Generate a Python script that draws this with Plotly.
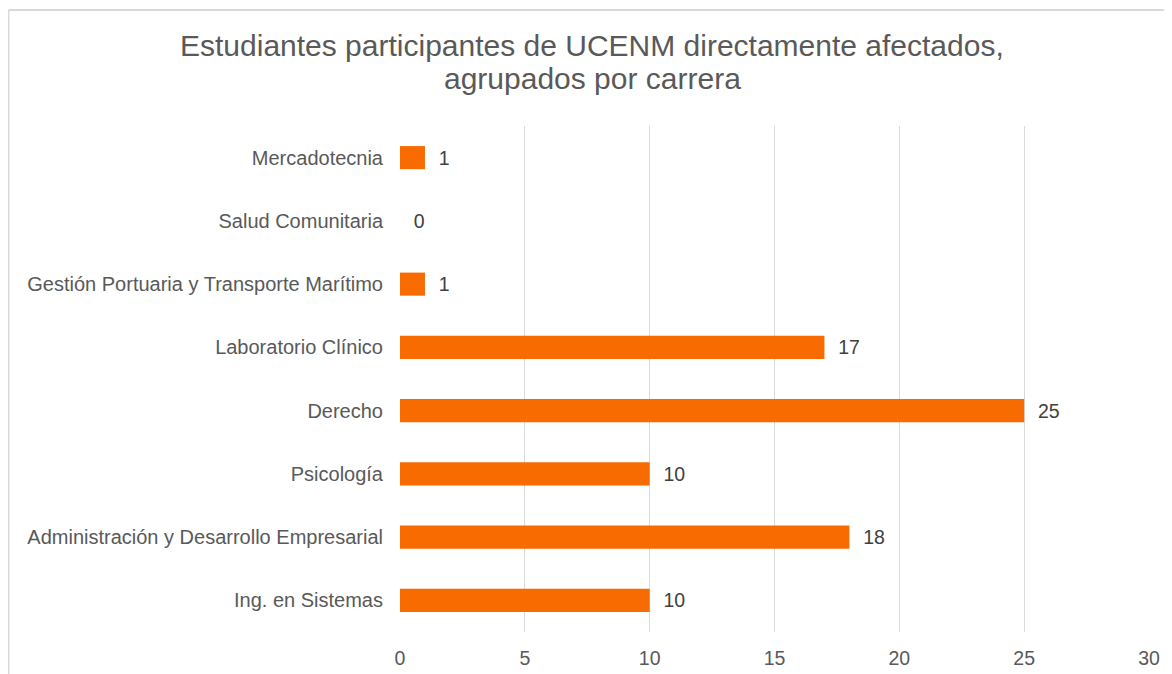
import plotly.graph_objects as go

carreras = [
    "Ing. en Sistemas",
    "Administración y Desarrollo Empresarial",
    "Psicología",
    "Derecho",
    "Laboratorio Clínico",
    "Gestión Portuaria y Transporte Marítimo",
    "Salud Comunitaria",
    "Mercadotecnia",
]
estudiantes = [10, 18, 10, 25, 17, 1, 0, 1]
x_ticks = [0, 5, 10, 15, 20, 25, 30]
titulo_1 = "Estudiantes participantes de UCENM directamente afectados,"
titulo_2 = "agrupados por carrera"

# page is offset by the 8px body margin
W, H = 1164, 666
L, R, T, B = 392, 23, 118, 42
pw, ph = W - L - R, H - T - B

def px(x):
    return (x - L) / pw

def py(y):
    return (H - B - y) / ph

FONT = "Liberation Sans, Arial, sans-serif"

fig = go.Figure(
    go.Bar(
        y=carreras,
        x=estudiantes,
        orientation="h",
        marker=dict(color="#F76B00", line=dict(width=0)),
        text=[f"  {v}" for v in estudiantes],
        textposition="outside",
        textfont=dict(family=FONT, size=19.5, color="#404040"),
        cliponaxis=False,
    )
)

fig.update_layout(
    width=W,
    height=H,
    margin=dict(l=L, r=R, t=T, b=B, autoexpand=False),
    paper_bgcolor="white",
    plot_bgcolor="white",
    bargap=0.635,
    showlegend=False,
    font=dict(family=FONT, color="#595959"),
    xaxis=dict(
        range=[0, 30],
        tickvals=x_ticks,
        showgrid=True,
        gridcolor="#D9D9D9",
        gridwidth=1,
        zeroline=False,
        showline=False,
        automargin=False,
        tickfont=dict(size=19.5, color="#595959"),
        ticklabelstandoff=12,
        fixedrange=True,
    ),
    yaxis=dict(
        categoryorder="array",
        categoryarray=carreras,
        range=[-0.5, len(carreras) - 0.5],
        showgrid=False,
        showline=False,
        zeroline=False,
        automargin=False,
        tickfont=dict(size=20, color="#595959"),
        ticklabelstandoff=16,
        fixedrange=True,
    ),
    annotations=[
        dict(text=titulo_1, xref="paper", yref="paper", x=px(584), y=py(37.5),
             xanchor="center", yanchor="middle", showarrow=False,
             font=dict(family=FONT, size=30, color="#595959")),
        dict(text=titulo_2, xref="paper", yref="paper", x=px(584), y=py(70.5),
             xanchor="center", yanchor="middle", showarrow=False,
             font=dict(family=FONT, size=30, color="#595959")),
    ],
    shapes=[
        dict(type="line", xref="paper", yref="paper", x0=px(0.5), x1=px(W + 5), y0=py(2), y1=py(2),
             line=dict(color="#D9D9D9", width=2)),
        dict(type="line", xref="paper", yref="paper", x0=px(0.5), x1=px(0.5), y0=py(2), y1=py(H + 5),
             line=dict(color="#D9D9D9", width=2)),
    ],
)

fig.write_html("out.html")
